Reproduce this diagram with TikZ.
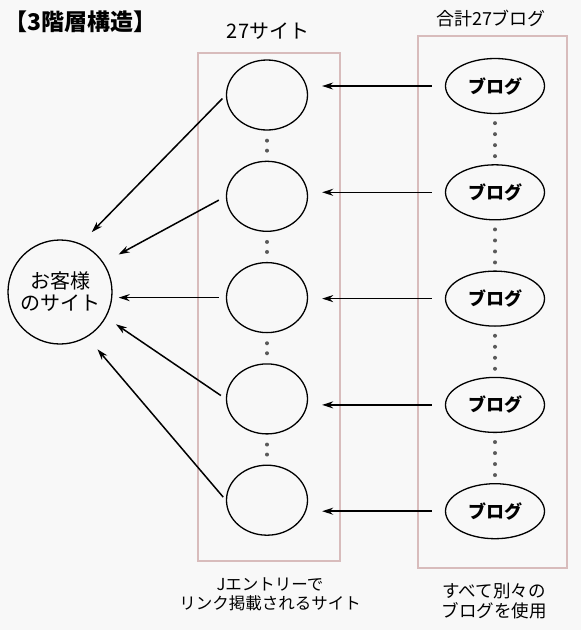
\documentclass[tikz,border=0pt]{standalone}
\usepackage{fontspec}
\setmainfont{Noto Sans CJK JP}
\usepackage{xcolor}
\usetikzlibrary{arrows.meta}
\usetikzlibrary{positioning, shapes.geometric, calc}

\definecolor{paper}{RGB}{248,248,248}
\definecolor{boxpink}{RGB}{216,188,188}
\definecolor{dotgray}{RGB}{90,90,90}

\tikzset{
  site/.style={draw, ellipse, line width=1.3pt, minimum width=81pt, minimum height=70pt, inner sep=0pt},
  blog/.style={draw, ellipse, line width=1.3pt, minimum width=99pt, minimum height=55pt, inner sep=0pt,
    font=\fontsize{18}{20}\selectfont\bfseries},
  customer/.style={draw, circle, line width=1.3pt, minimum size=104pt, inner sep=0pt, align=center,
    font=\fontsize{20}{22}\selectfont},
  link/.style={-{Stealth[length=11pt,width=7pt]}, line width=1.5pt},
  feed/.style={link, shorten <=13pt, shorten >=14pt},
  groupbox/.style={draw=boxpink, line width=1.3pt},
}

\begin{document}
\begin{tikzpicture}[x=1pt, y=-1pt]
  \fill[paper] (0,0) rectangle (581,630);
  \useasboundingbox (0,0) rectangle (581,630);

  % frames round the two columns
  \draw[groupbox] (198,53) rectangle (340,561);
  \draw[groupbox] (418,36) rectangle (567,568);

  \node[font=\fontsize{23}{25}\selectfont\bfseries, anchor=west] (title) at (1,22) {【3階層構造】};
  \node[font=\fontsize{20}{22}\selectfont] (sitehead) at (268,31) {27サイト};
  \node[font=\fontsize{18}{20}\selectfont] (bloghead) at (491,19) {合計27ブログ};

  \node[customer] (c) at (60,292) {お客様\\のサイト};

  \node[site] (s1) at (267,95) {};
  \node[site, below=30pt of s1] (s2) {};
  \node[site, below=30pt of s2] (s3) {};
  \node[site, below=30pt of s3] (s4) {};
  \node[site, below=30pt of s4] (s5) {};

  \node[blog] (b1) at (495,86) {ブログ};
  \node[blog, below=50pt of b1] (b2) {ブログ};
  \node[blog, below=50pt of b2] (b3) {ブログ};
  \node[blog, below=50pt of b3] (b4) {ブログ};
  \node[blog, below=50pt of b4] (b5) {ブログ};

  \node[font=\fontsize{16.5}{19}\selectfont, align=center] (sitenote) at (270,594) {Jエントリーで\\リンク掲載されるサイト};
  \node[font=\fontsize{17.5}{20}\selectfont, align=center] (blognote) at (494,601) {すべて別々の\\ブログを使用};

  % dots between the circles
  \fill[dotgray] ($(s1.south)!.5!(s2.north)$) ++(0,-5) circle (2pt) ++(0,10) circle (2pt);
  \fill[dotgray] ($(s2.south)!.5!(s3.north)$) ++(0,-5) circle (2pt) ++(0,10) circle (2pt);
  \fill[dotgray] ($(s3.south)!.5!(s4.north)$) ++(0,-5) circle (2pt) ++(0,10) circle (2pt);
  \fill[dotgray] ($(s4.south)!.5!(s5.north)$) ++(0,-5) circle (2pt) ++(0,10) circle (2pt);
  \fill[dotgray] ($(b1.south)!.5!(b2.north)$) ++(0,-16) circle (2pt) ++(0,11) circle (2pt) ++(0,11) circle (2pt) ++(0,11) circle (2pt);
  \fill[dotgray] ($(b2.south)!.5!(b3.north)$) ++(0,-16) circle (2pt) ++(0,11) circle (2pt) ++(0,11) circle (2pt) ++(0,11) circle (2pt);
  \fill[dotgray] ($(b3.south)!.5!(b4.north)$) ++(0,-16) circle (2pt) ++(0,11) circle (2pt) ++(0,11) circle (2pt) ++(0,11) circle (2pt);
  \fill[dotgray] ($(b4.south)!.5!(b5.north)$) ++(0,-16) circle (2pt) ++(0,11) circle (2pt) ++(0,11) circle (2pt) ++(0,11) circle (2pt);

  % blogs -> sites
  \draw[feed] (b1.west) -- (b1.west -| s1.east);
  \draw[feed] (b2.west) -- (b2.west -| s2.east);
  \draw[feed] (b3.west) -- (b3.west -| s3.east);
  \draw[feed] (b4.west) -- (b4.west -| s4.east);
  \draw[feed] (b5.west) -- (b5.west -| s5.east);

  % sites -> customer
  \draw[link, shorten <=5pt, shorten >=16pt] (s1.west) -- (c.67);
  \draw[link, shorten <=8pt, shorten >=17pt] (s2.west) -- (c.34);
  \draw[link, shorten <=7pt, shorten >=6pt] (s3.west) -- (s3.west -| c.east);
  \draw[link, shorten <=6pt, shorten >=12pt] (s4.west) -- (c.-29);
  \draw[link, shorten <=4pt, shorten >=16pt] (s5.west) -- (c.-59);
\end{tikzpicture}
\end{document}
